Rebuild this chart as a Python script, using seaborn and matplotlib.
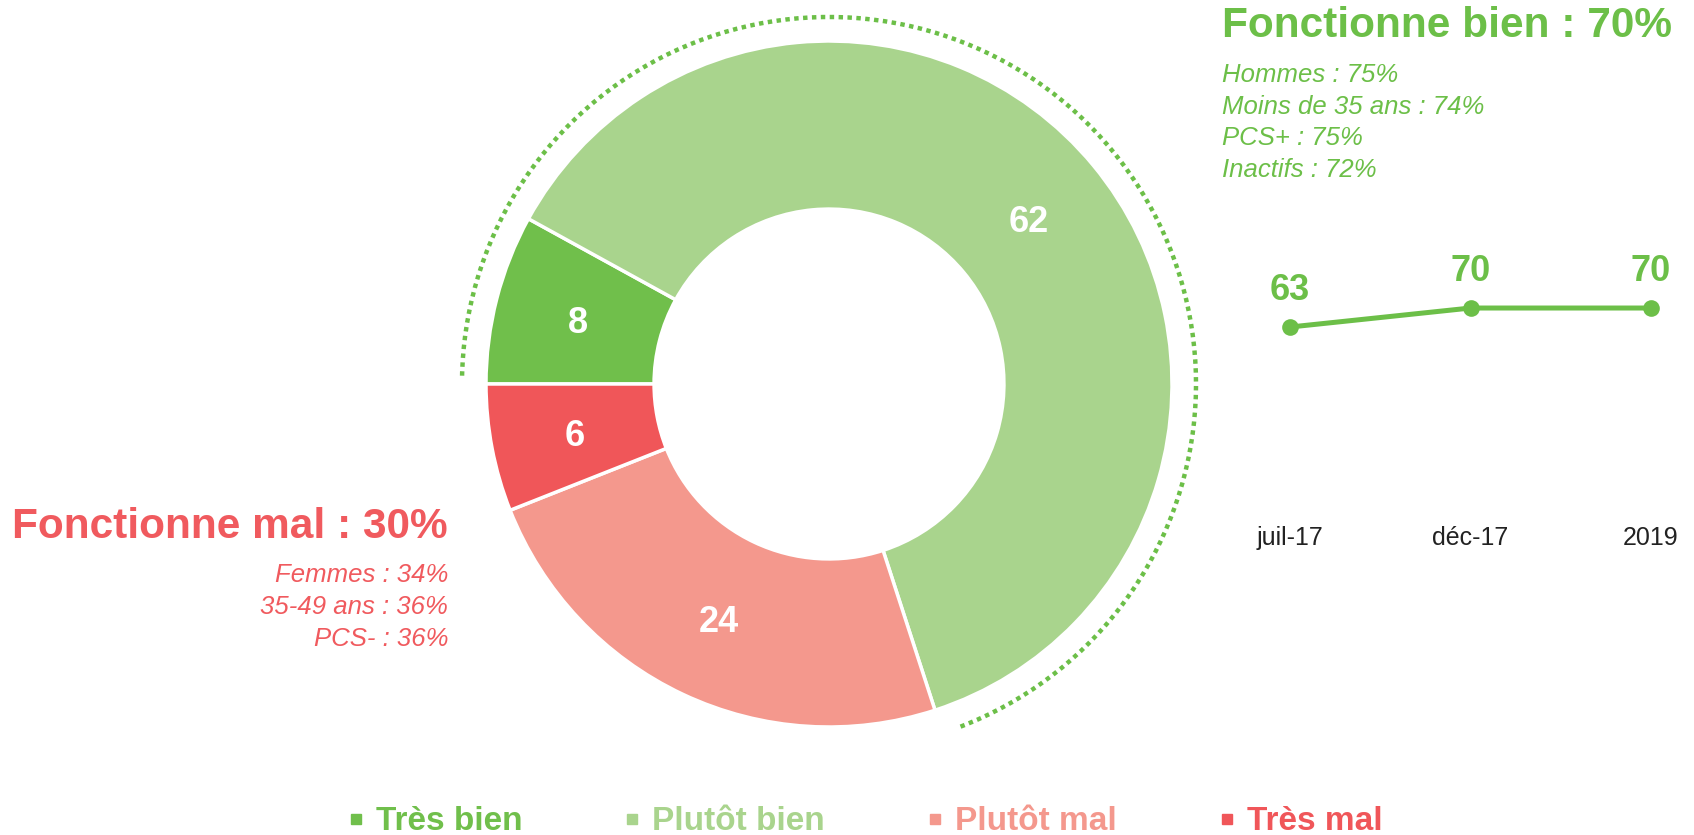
import matplotlib
matplotlib.use('Agg')
import matplotlib.pyplot as plt
import seaborn as sns
from matplotlib.patches import Arc
from matplotlib.lines import Line2D

# donut data
categories = ['Très bien', 'Plutôt bien', 'Plutôt mal', 'Très mal']
shares = [8, 62, 24, 6]
colors = ['#70BF4B', '#A9D48D', '#F4988D', '#F05659']

# evolution of "fonctionne bien"
trend_labels = ['juil-17', 'déc-17', '2019']
trend_values = [63, 70, 70]

good_title = 'Fonctionne bien : 70%'
good_details = ['Hommes : 75%', 'Moins de 35 ans : 74%', 'PCS+ : 75%', 'Inactifs : 72%']
bad_title = 'Fonctionne mal : 30%'
bad_details = ['Femmes : 34%', '35-49 ans : 36%', 'PCS- : 36%']

GREEN = '#6CBF48'
RED = '#F05A5E'

sns.set_theme(style='white')
plt.rcParams['font.family'] = ['Liberation Sans', 'DejaVu Sans']

W, H = 1694, 835
fig = plt.figure(figsize=(W / 100, H / 100), dpi=100)


def px_axes(left, top, width, height):
    return fig.add_axes([left / W, 1 - (top + height) / H, width / W, height / H])


########## DONUT ##########
cx, cy, R = 829, 384, 343
lim = 1.12
ax = px_axes(cx - R * lim, cy - R * lim, 2 * R * lim, 2 * R * lim)
ax.pie(shares, colors=colors, startangle=180, counterclock=False, radius=1,
       labels=[str(v) for v in shares], labeldistance=0.755,
       wedgeprops=dict(width=0.49, edgecolor='white', linewidth=2.5),
       textprops=dict(color='white', fontsize=26, fontweight='bold',
                      ha='center', va='center_baseline'))
ax.set_xlim(-lim, lim)
ax.set_ylim(-lim, lim)
ax.set_aspect('equal')
ax.axis('off')

# dotted arc over the "good" part
good_share = shares[0] + shares[1]
theta_end = 180 - 360 * good_share / sum(shares)
arc = Arc((0, 0), 2 * 1.07, 2 * 1.07, theta1=theta_end + 3, theta2=179.2,
          color=GREEN, lw=3.2, linestyle=(0, (1, 1)))
arc.set_capstyle('butt')
ax.add_patch(arc)

########## TREND LINE ##########
lax = px_axes(1254, 226.6, 433, 271.4)
sns.lineplot(x=list(range(len(trend_values))), y=trend_values, ax=lax,
             color=GREEN, lw=3.6, marker='o', markersize=12, markeredgewidth=0)
for i, v in enumerate(trend_values):
    lax.annotate(str(v), (i, v), xytext=(0, 19.4), textcoords='offset points',
                 ha='center', va='baseline', fontsize=26, fontweight='bold', color=GREEN)
lax.set_xlim(-0.2, 2.2)
lax.set_ylim(0, 100)
lax.set_xticks(range(len(trend_labels)), trend_labels)
lax.set_yticks([])
lax.tick_params(axis='x', length=0, pad=20, labelsize=18, labelcolor='#222222')
sns.despine(ax=lax, left=True, bottom=True)
lax.patch.set_alpha(0)

########## TEXTS ##########
fig.text(1222 / W, 1 - 37 / H, good_title, fontsize=30.5, fontweight='bold',
         color=GREEN, va='baseline', ha='left')
for i, t in enumerate(good_details):
    fig.text(1222 / W, 1 - (82 + i * 31.7) / H, t, fontsize=18.5, style='italic',
             color=GREEN, va='baseline', ha='left')

fig.text(448 / W, 1 - 538 / H, bad_title, fontsize=30.5, fontweight='bold',
         color=RED, va='baseline', ha='right')
for i, t in enumerate(bad_details):
    fig.text(448 / W, 1 - (582 + i * 32) / H, t, fontsize=18.5, style='italic',
             color=RED, va='baseline', ha='right')

########## LEGEND ##########
handles = [Line2D([], [], marker='s', ls='', color=c, markersize=7) for c in colors]
fig.legend(handles, categories, loc='center', bbox_to_anchor=(864 / W, 1 - 822 / H),
           ncol=4, frameon=False,
           prop=dict(family=['Liberation Sans Narrow', 'Liberation Sans'], weight='bold', size=24),
           labelcolor=colors, handlelength=0.6, handletextpad=0.3, columnspacing=3.0)

fig.savefig('out.png', dpi=100)
